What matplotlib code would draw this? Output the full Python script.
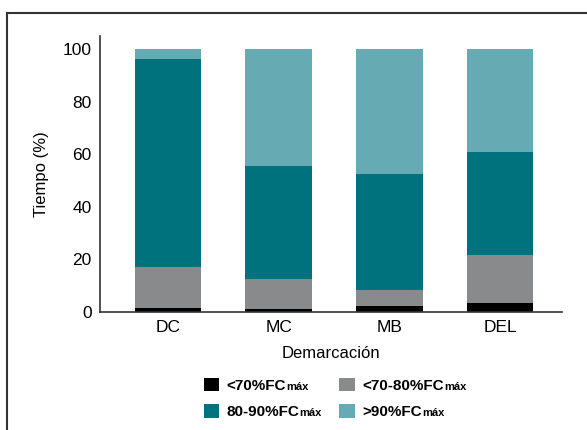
import matplotlib
matplotlib.use("Agg")
import matplotlib.pyplot as plt
from matplotlib.lines import Line2D
from matplotlib.patches import Patch
import numpy as np

categories = ["DC", "MC", "MB", "DEL"]
series_names = ["<70%FC", "<70-80%FC", "80-90%FC", ">90%FC"]
below70 = [1.4, 1.0, 2.2, 3.4]
z70_80 = [15.6, 11.4, 6.1, 18.2]
z80_90 = [79.2, 43.1, 44.1, 39.2]
above90 = [3.8, 44.5, 47.6, 39.2]
yticks = [0, 20, 40, 60, 80, 100]
colors = ["#000000", "#898A8C", "#00727D", "#66AAB4"]

plt.rcParams['font.family'] = ['Liberation Sans Narrow', 'Liberation Sans', 'DejaVu Sans']

fig = plt.figure(figsize=(5.87, 4.30), dpi=100)
W, H = 587, 430
ax = fig.add_axes([100 / W, 1 - 311.7 / H, 462 / W, (311.7 - 36) / H])

x = np.arange(len(categories))
bottom = np.zeros(len(categories))
handles = []
for vals, name, c in zip([below70, z70_80, z80_90, above90], series_names, colors):
    ax.bar(x, vals, width=0.6, bottom=bottom, color=c, label=name)
    bottom += np.array(vals)
    handles.append(Patch(facecolor=c, label=name))

ax.set_ylim(0, 105)
ax.set_xlim(-0.614, 3.56)
ax.set_yticks(yticks)
ax.set_xticks(x)
ax.set_xticklabels(categories)
ax.tick_params(axis='both', length=0, labelsize=12.5, pad=6)
for s in ["top", "right"]:
    ax.spines[s].set_visible(False)
for s in ["left", "bottom"]:
    ax.spines[s].set_linewidth(1.2)
    ax.spines[s].set_color("#333333")
ax.set_ylabel("Tiempo (%)", fontsize=12, labelpad=10)
ax.set_xlabel("Demarcación", fontsize=12, labelpad=8)

order = [handles[0], handles[2], handles[1], handles[3]]
leg = fig.legend(handles=order, loc="upper left", bbox_to_anchor=(190 / W, 1 - 364 / H),
                 ncol=2, frameon=False, prop={'weight': 'bold', 'size': 11},
                 handlelength=1.0, handleheight=1.0, handletextpad=0.5,
                 columnspacing=2.6, labelspacing=0.75)

# frame lines
fig.add_artist(Line2D([7 / W, 1], [1 - 13 / H, 1 - 13 / H], transform=fig.transFigure,
                      color="#333333", lw=1.5))
fig.add_artist(Line2D([7 / W, 7 / W], [1 - 13 / H, 0], transform=fig.transFigure,
                      color="#333333", lw=1.5))

# subscript "máx"
fig.canvas.draw()
r = fig.canvas.get_renderer()
for t in leg.get_texts():
    bb = t.get_window_extent(r)
    fig.text(bb.x1 / (W), (bb.y0 + 1) / H, "máx", fontsize=8, weight='bold',
             ha='left', va='bottom')

fig.savefig("out.png", dpi=100)
